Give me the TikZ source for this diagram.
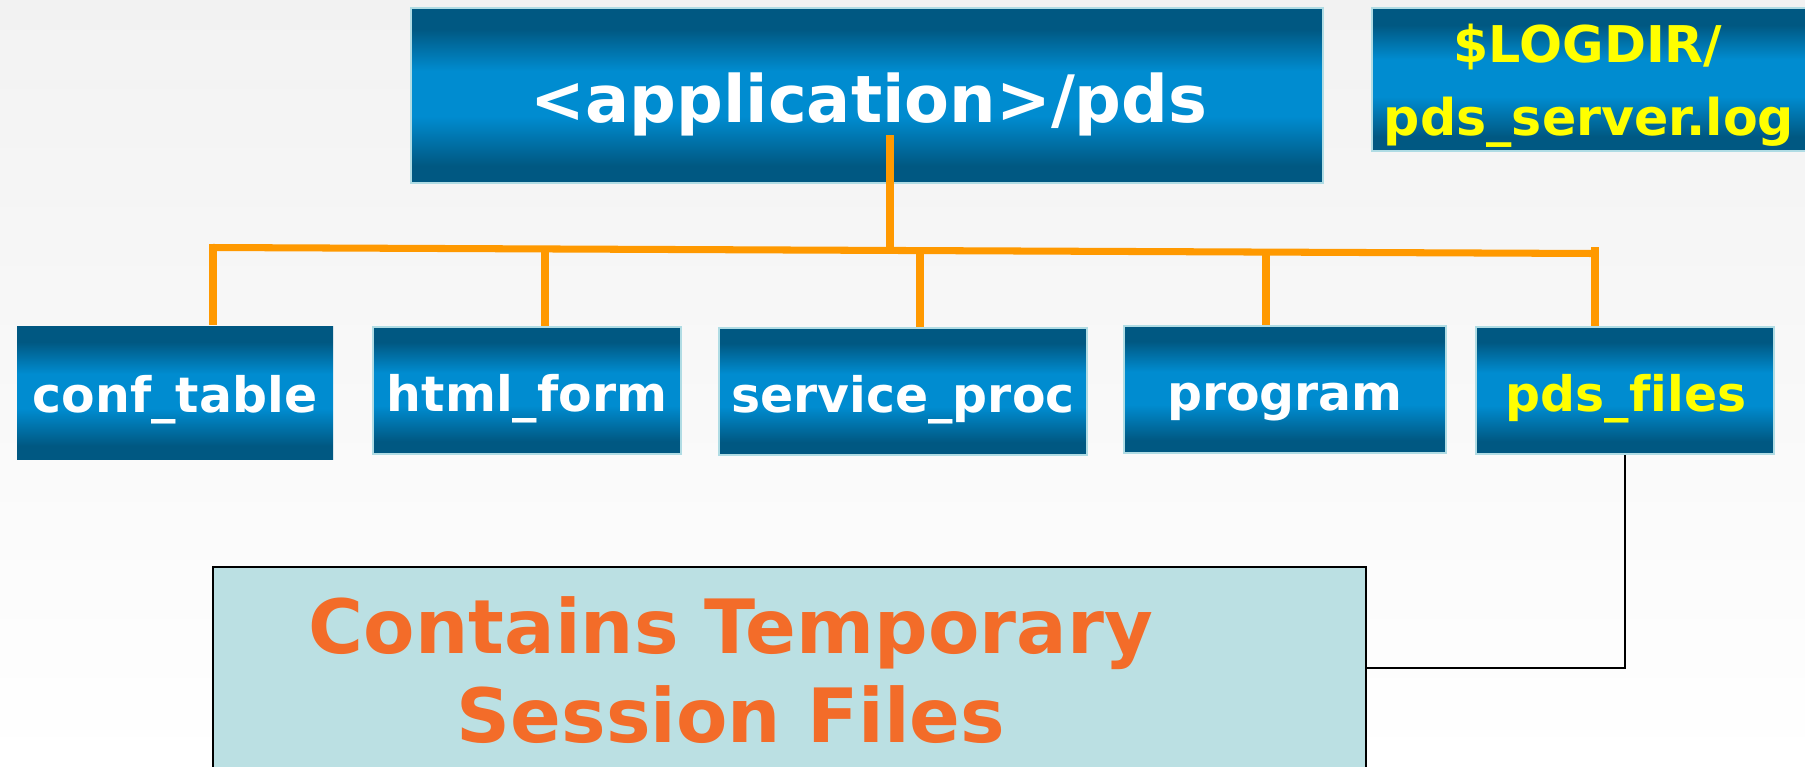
\documentclass[tikz,border=0pt]{standalone}
\usepackage{fontspec}
\setmainfont{DejaVu Sans}[Ligatures=NoCommon]
\usetikzlibrary{fit}
\definecolor{dk}{RGB}{0,88,130}
\definecolor{br}{RGB}{0,140,208}
\definecolor{boxedge}{RGB}{176,220,228}
\definecolor{lineor}{RGB}{255,153,0}
\definecolor{notefill}{RGB}{187,224,227}
\definecolor{notetext}{RGB}{243,108,41}
\definecolor{bgtop}{RGB}{242,242,242}
\definecolor{yel}{RGB}{255,255,0}
\pgfdeclareverticalshading{boxshade}{100bp}{color(0bp)=(dk); color(30bp)=(dk); color(44bp)=(br); color(57bp)=(br); color(69bp)=(dk); color(100bp)=(dk)}
\begin{document}
\begin{tikzpicture}[x=0.01cm,y=-0.01cm,
  dirbox/.style={rectangle, inner sep=0pt, shade, shading=boxshade, draw=boxedge, line width=0.5pt},
  plainbox/.style={rectangle, inner sep=0pt, shade, shading=boxshade},
  notebox/.style={rectangle, inner sep=0pt, fill=notefill, draw=black, line width=0.75pt},
  lbl/.style={anchor=base, inner sep=0pt, font=\bfseries\fontsize{13.9}{16}\selectfont, text=white},
  biglbl/.style={anchor=base, inner sep=0pt, font=\bfseries\fontsize{18.6}{22}\selectfont, text=white},
  loglbl/.style={anchor=base, inner sep=0pt, font=\bfseries\fontsize{14.4}{16}\selectfont, text=yel},
  notelbl/.style={anchor=base, inner sep=0pt, font=\bfseries\fontsize{21.3}{25}\selectfont, text=notetext},
  orangeline/.style={draw=lineor, line width=2pt},
  thinline/.style={draw=black, line width=0.45pt}
]
\useasboundingbox (0,0) rectangle (1805,766);
\clip (0,0) rectangle (1805,766);
\shade[top color=bgtop, bottom color=white] (0,0) rectangle (1805,766);

% boxes
\node[dirbox, fit={(411,8) (1323,183)}] (main) {};
\node[dirbox, fit={(1372,8) (1815,151)}] (logbox) {};
\node[plainbox, fit={(17,326) (333,459)}] (conf) {};
\node[dirbox, fit={(373,327) (681,454)}] (html) {};
\node[dirbox, fit={(719,328) (1087,455)}] (serv) {};
\node[dirbox, fit={(1124,326) (1446,453)}] (prog) {};
\node[dirbox, fit={(1476,327) (1774,454)}] (pdsf) {};
\node[notebox, fit={(213,567) (1366,800)}] (note) {};

% texts
\node[biglbl] (mainT) at (869,122) {<application>/pds};
\node[loglbl] (logT1) at (1588,62) {\$LOGDIR/};
\node[loglbl] (logT2) at (1589,135) {pds\_server.log};
\node[lbl] (confT) at (175,412) {conf\_table};
\node[lbl] (htmlT) at (527,411) {html\_form};
\node[lbl] (servT) at (903,412) {service\_proc};
\node[lbl] (progT) at (1285,410) {program};
\node[lbl, text=yel] (pdsT) at (1626,411) {pds\_files};
\node[notelbl] (noteT1) at (731,653) {Contains Temporary};
\node[notelbl] (noteT2) at (731,742) {Session Files};

% tree connectors
\coordinate (stemtop) at (890,135);
\coordinate (barL) at (213,247.5);
\coordinate (barR) at (1595,253.5);
\coordinate (jmain) at (890,250.4);
\coordinate (j1) at (213,244);
\coordinate (j2) at (545,248.9);
\coordinate (j3) at (920,250.6);
\coordinate (j4) at (1266,252.1);
\coordinate (j5) at (1595,247);
\draw[orangeline] (stemtop) -- (jmain);
\draw[orangeline] (barL) -- (barR);
\draw[orangeline] (j1) -- (j1 |- conf.north);
\draw[orangeline] (j2) -- (j2 |- html.north);
\draw[orangeline] (j3) -- (j3 |- serv.north);
\draw[orangeline] (j4) -- (j4 |- prog.north);
\draw[orangeline] (j5) -- (j5 |- pdsf.north);

% note connector
\coordinate (elbow) at (1625,668);
\draw[thinline] (pdsf.south) -- (elbow) -- (elbow -| note.east);
\end{tikzpicture}
\end{document}
